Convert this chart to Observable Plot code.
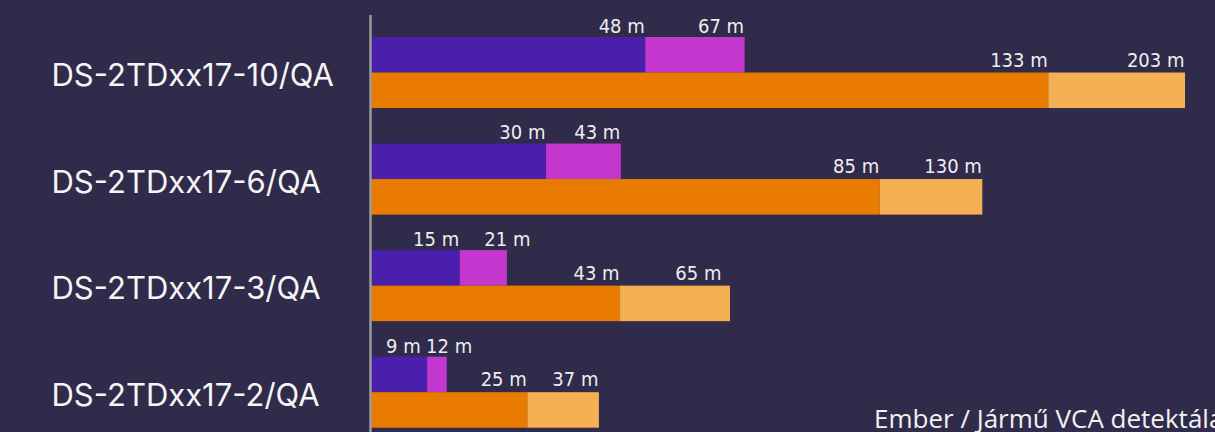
<!DOCTYPE html>
<html><head><meta charset="utf-8">
<script src="https://cdn.jsdelivr.net/npm/d3@7"></script>
<script src="https://cdn.jsdelivr.net/npm/@observablehq/plot@0.6"></script>
<style>
html,body{margin:0;padding:0;background:#302a4b;overflow:hidden;width:1215px;height:432px}
#wrap{position:relative;width:1215px;height:432px;overflow:hidden}
#caption{position:absolute;left:874px;top:405px;font-family:"Open Sans",sans-serif;font-size:26px;line-height:26px;color:#f2f2f2;white-space:nowrap}
</style></head><body><div id="wrap"><div id="chart"></div><div id="caption">Ember / Jármű VCA detektálási távolság</div></div>
<script>
const models = ["DS-2TDxx17-10/QA", "DS-2TDxx17-6/QA", "DS-2TDxx17-3/QA", "DS-2TDxx17-2/QA"];
// labelled distances (m)
const humanNear = [48, 30, 15, 9];
const humanFar = [67, 43, 21, 12];
const vehicleNear = [133, 85, 43, 25];
const vehicleFar = [203, 130, 65, 37];
// drawn bar lengths (% of the longest bar)
const humanNearLen = [33.7, 21.5, 10.9, 6.9];
const humanFarLen = [45.9, 30.7, 16.7, 9.3];
const vehicleNearLen = [83.2, 62.5, 30.6, 19.2];
const vehicleFarLen = [100, 75.1, 44.1, 28.0];
const seriesKeys = ["Ember közel", "Ember távol", "Jármű közel", "Jármű távol"];
const seriesColors = ["#4a1fab", "#c437cf", "#e97b00", "#f5b053"];

const rows = models.flatMap((m, i) => i < models.length - 1 ? [m + "|Ember", m + "|Jármű", m + "|gap"] : [m + "|Ember", m + "|Jármű"]);

const bars = models.flatMap((m, i) => [
  {row: m + "|Ember", x1: 0, x2: humanNearLen[i], key: seriesKeys[0]},
  {row: m + "|Ember", x1: humanNearLen[i], x2: humanFarLen[i], key: seriesKeys[1]},
  {row: m + "|Jármű", x1: 0, x2: vehicleNearLen[i], key: seriesKeys[2]},
  {row: m + "|Jármű", x1: vehicleNearLen[i], x2: vehicleFarLen[i], key: seriesKeys[3]}
]);
const hNearLabels = models.map((m, i) => ({i, row: m + "|Ember", x: humanNearLen[i], text: humanNear[i] + " m"}));
const hFarLabels = models.map((m, i) => ({i, row: m + "|Ember", x: humanFarLen[i], text: humanFar[i] + " m"}));
const vNearLabels = models.map((m, i) => ({i, row: m + "|Jármű", x: vehicleNearLen[i], text: vehicleNear[i] + " m"}));
const vFarLabels = models.map((m, i) => ({i, row: m + "|Jármű", x: vehicleFarLen[i], text: vehicleFar[i] + " m"}));

const valueFont = {x: "x", y: "row", text: "text", fontFamily: "'DejaVu Sans Condensed', 'DejaVu Sans', sans-serif", fontSize: 20, fill: "#eeeeee", textAnchor: "end", lineAnchor: "bottom"};
const hdy = -22.4, vdy = -24;

const chart = Plot.plot({
  width: 1215,
  height: 432,
  marginLeft: 371,
  marginRight: 30,
  marginTop: 37,
  marginBottom: 4.3,
  x: {domain: [0, 100], axis: null},
  y: {domain: rows, axis: null, padding: 0, round: false},
  color: {domain: seriesKeys, range: seriesColors},
  style: {background: "#302a4b", color: "#ffffff", overflow: "visible"},
  marks: [
    Plot.barX(bars, {x1: "x1", x2: "x2", y: "row", fill: "key"}),
    Plot.ruleX([0], {stroke: "#9b9b9b", strokeWidth: 2.5, dx: -1, insetTop: -22, insetBottom: -6}),
    Plot.text(models, {y: d => d + "|Ember", text: d => d, frameAnchor: "left", textAnchor: "start", dx: -320, dy: 21, fontSize: 31, fontFamily: "Inter, sans-serif", fill: "#f5f5f5"}),
    // near labels (nudged left where the bar is short)
    Plot.text(hNearLabels, {...valueFont, filter: d => d.i < 3, dx: -1, dy: hdy}),
    Plot.text(hNearLabels, {...valueFont, filter: d => d.i === 3, dx: -7, dy: hdy}),
    // far labels (nudged right where they would collide with the near label)
    Plot.text(hFarLabels, {...valueFont, filter: d => d.i < 2, dx: -1, dy: hdy}),
    Plot.text(hFarLabels, {...valueFont, filter: d => d.i === 2, dx: 23, dy: hdy}),
    Plot.text(hFarLabels, {...valueFont, filter: d => d.i === 3, dx: 25, dy: hdy}),
    Plot.text(vNearLabels, {...valueFont, dx: -1, dy: vdy}),
    Plot.text(vFarLabels, {...valueFont, filter: d => d.i !== 2, dx: -1, dy: vdy}),
    Plot.text(vFarLabels, {...valueFont, filter: d => d.i === 2, dx: -9, dy: vdy})
  ]
});
document.getElementById("chart").appendChild(chart);
</script>
</body></html>
